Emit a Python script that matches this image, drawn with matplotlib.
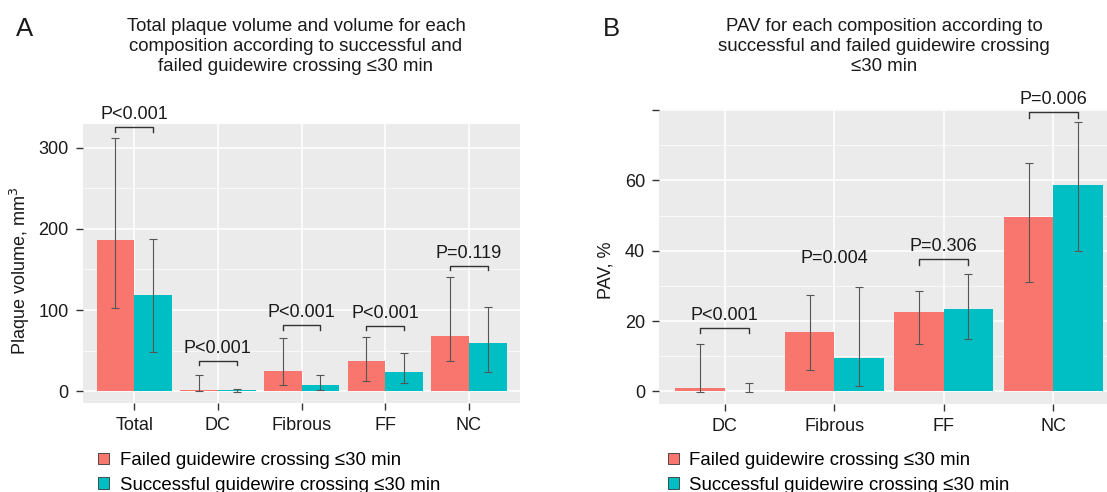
import matplotlib.pyplot as plt
import numpy as np
from matplotlib.patches import Patch

plt.rcParams['font.family'] = ['Liberation Sans', 'DejaVu Sans']

RED = '#F8766D'
TEAL = '#00BFC4'
TXT = '#1a1a1a'

# Panel A: plaque volume (mm3), mean with lower/upper whisker
cats_a = ['Total', 'DC', 'Fibrous', 'FF', 'NC']
failed_a = [186, 2, 25, 36.6, 67.5]
failed_a_lo = [103, 0, 7.5, 13, 36.6]
failed_a_hi = [312, 19.4, 66, 66.5, 141]
succ_a = [118.5, 0.8, 8, 23, 59]
succ_a_lo = [48.5, -0.5, 2, 9.5, 24]
succ_a_hi = [188, 2.5, 19.4, 46.5, 104]
pvals_a = ['P<0.001', 'P<0.001', 'P<0.001', 'P<0.001', 'P=0.119']
brackets_a = [325.6, 37.4, 81, 80.6, 154.7]

# Panel B: PAV (%)
cats_b = ['DC', 'Fibrous', 'FF', 'NC']
failed_b = [0.9, 16.9, 22.5, 49.6]
failed_b_lo = [-0.2, 6.1, 13.4, 31.2]
failed_b_hi = [13.5, 27.3, 28.6, 64.8]
succ_b = [0.2, 9.6, 23.3, 58.7]
succ_b_lo = [-0.3, 1.6, 14.9, 40]
succ_b_hi = [2.5, 29.6, 33.5, 76.5]
pvals_b = ['P<0.001', 'P=0.004', 'P=0.306', 'P=0.006']
brackets_b = [18.1, 34.3, 37.6, 79.4]
show_bracket_b = [True, False, True, True]

labels = ['Failed guidewire crossing \u226430 min',
          'Successful guidewire crossing \u226430 min']


def draw_panel(ax, cats, f, flo, fhi, s, slo, shi, pvals, brk, show, ylim, yticks, yminor, tip):
    x = np.arange(len(cats))
    w = 0.45
    ax.set_facecolor('#EBEBEB')
    ax.set_axisbelow(True)
    ax.bar(x - w / 2, f, w, color=RED, zorder=2)
    ax.bar(x + w / 2, s, w, color=TEAL, zorder=2)
    f = np.array(f); s = np.array(s)
    ax.errorbar(x - w / 2, f, yerr=[f - np.array(flo), np.array(fhi) - f], fmt='none',
                ecolor='#555555', elinewidth=0.8, capsize=3.2, capthick=0.8, zorder=3)
    ax.errorbar(x + w / 2, s, yerr=[s - np.array(slo), np.array(shi) - s], fmt='none',
                ecolor='#555555', elinewidth=0.8, capsize=3.2, capthick=0.8, zorder=3)
    for i in range(len(cats)):
        if show[i]:
            ax.plot([x[i] - w / 2, x[i] - w / 2, x[i] + w / 2, x[i] + w / 2],
                    [brk[i] - tip, brk[i], brk[i], brk[i] - tip],
                    color='#333333', lw=1, clip_on=False, zorder=4)
        ax.annotate(pvals[i], (x[i], brk[i]), xytext=(0, 3), textcoords='offset points',
                    ha='center', va='bottom', fontsize=13, color=TXT,
                    annotation_clip=False)
    ax.set_xticks(x)
    ax.set_xticklabels(cats)
    ax.set_yticks(yticks)
    ax.set_yticks(yminor, minor=True)
    ax.set_ylim(*ylim)
    ax.grid(which='major', color='white', lw=1.1)
    ax.grid(which='minor', axis='y', color='white', lw=0.5)
    for sp in ax.spines.values():
        sp.set_visible(False)
    ax.tick_params(which='major', length=5, width=1, color='#333333', labelsize=13,
                   labelcolor=TXT, pad=5)
    ax.tick_params(which='minor', length=0)


fig = plt.figure(figsize=(11.07, 4.92), dpi=100)
ax1 = fig.add_axes([0.0747, 0.1803, 0.395, 0.567])
ax2 = fig.add_axes([0.5953, 0.1789, 0.4047, 0.5996])

draw_panel(ax1, cats_a, failed_a, failed_a_lo, failed_a_hi, succ_a, succ_a_lo, succ_a_hi,
           pvals_a, brackets_a, [True] * 5, (-15, 329), [0, 100, 200, 300], [50, 150, 250], 5.5)
ax1.set_xlim(-0.615, 4.61)

draw_panel(ax2, cats_b, failed_b, failed_b_lo, failed_b_hi, succ_b, succ_b_lo, succ_b_hi,
           pvals_b, brackets_b, show_bracket_b, (-3.6, 80.3), [0, 20, 40, 60, 80], [10, 30, 50, 70], 1.6)
ax2.set_yticklabels(['0', '20', '40', '60', ''])
ax2.set_xlim(-0.6, 3.49)

fig.text(19.7 / 1107, 1 - 271 / 492, 'Plaque volume, mm$^3$', rotation=90,
         ha='center', va='center', fontsize=13, color=TXT)
fig.text(605.7 / 1107, 1 - 270.5 / 492, 'PAV, %', rotation=90,
         ha='center', va='center', fontsize=13, color=TXT)

fig.text(296 / 1107, 0.963, 'Total plaque volume and volume for each\ncomposition according to successful and\nfailed guidewire crossing \u226430 min',
         ha='center', va='top', fontsize=13.4, color=TXT, linespacing=1.24)
fig.text(884 / 1107, 0.963, 'PAV for each composition according to\nsuccessful and failed guidewire crossing\n\u226430 min',
         ha='center', va='top', fontsize=13.4, color=TXT, linespacing=1.24)
fig.text(25 / 1107, 1 - 28.5 / 492, 'A', ha='center', va='center', fontsize=18.5, color=TXT)
fig.text(611.7 / 1107, 1 - 28.7 / 492, 'B', ha='center', va='center', fontsize=18.5, color=TXT)

handles = [Patch(facecolor=RED, edgecolor='#333333', lw=0.6),
           Patch(facecolor=TEAL, edgecolor='#333333', lw=0.6)]
for xpos in [98.3 / 1107, 668 / 1107]:
    fig.legend(handles, labels, loc='upper left', bbox_to_anchor=(xpos, 1 - 452 / 492), frameon=False,
               fontsize=13.4, handlelength=0.6, handleheight=0.6, handletextpad=0.55,
               labelspacing=0.42, borderaxespad=0, borderpad=0)

fig.savefig('out.png', dpi=100)
